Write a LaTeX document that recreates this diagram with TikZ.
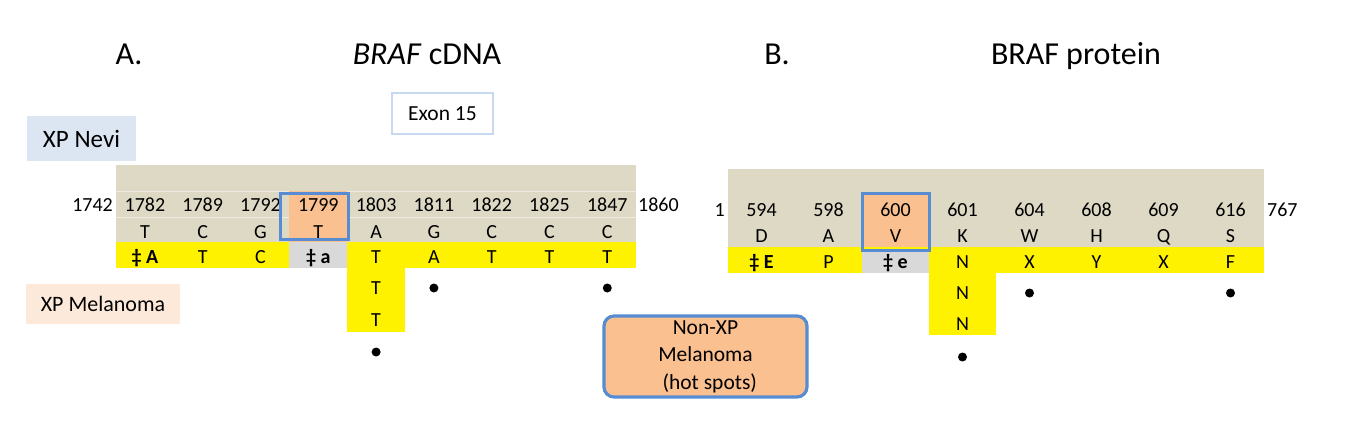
\documentclass[tikz,border=0pt]{standalone}
\usepackage{fontspec}
\setmainfont{Carlito}
\usetikzlibrary{positioning}
\definecolor{beige}{RGB}{221,217,196}
\definecolor{hot}{RGB}{250,192,144}
\definecolor{frame}{RGB}{88,140,210}
\definecolor{nevi}{RGB}{220,230,242}
\definecolor{mel}{RGB}{253,233,217}
\definecolor{wild}{RGB}{217,217,217}
\definecolor{exon}{RGB}{198,217,241}
\begin{document}
\begin{tikzpicture}[x=1pt,y=-1pt,
  num/.style={font=\fontsize{20}{24}\selectfont,inner sep=0pt,text height=13pt,text depth=0pt},
  ttl/.style={font=\fontsize{32}{38}\selectfont,anchor=base,inner sep=0pt},
  dot/.style={circle,fill=black,inner sep=0pt,minimum size=9pt}]
\useasboundingbox (0,0) rectangle (1362,428);
\node[ttl] (ta) at (129,65) {A.};
\node[ttl] (tdna) at (427,65) {\textit{BRAF} cDNA};
\node[ttl] (tb) at (777,65) {B.};
\node[ttl] (tprot) at (1076,65) {BRAF protein};
\node[draw=exon,line width=1.2pt,minimum width=101pt,minimum height=41pt,inner sep=0pt,font=\fontsize{21.5}{26}\selectfont] (exon) at (442.5,113.5) {Exon 15};
\node[fill=nevi,minimum width=109pt,minimum height=45pt,inner sep=0pt,font=\fontsize{25}{30}\selectfont] (nevi) at (81.5,138.5) {XP Nevi};
\node[fill=mel,minimum width=154pt,minimum height=40pt,inner sep=0pt,font=\fontsize{22}{26}\selectfont] (mel) at (103,304) {XP Melanoma};
\node[draw=frame,fill=hot,line width=3.2pt,rounded corners=10pt,minimum width=203pt,minimum height=81pt,inner sep=0pt,align=center,font=\fontsize{21.5}{27.5}\selectfont] (hotspots) at (705.5,356.5) {Non-XP\\Melanoma\\\hspace*{0.4em}(hot spots)};
\fill[beige] (116,165) rectangle (636,242);
\draw[white,opacity=.5] (116,191) -- (636,191) (116,217) -- (636,217);
\fill[hot] (289,191) rectangle (347,242);
\fill[yellow] (116,242) rectangle (636,268);
\fill[yellow] (347,268) rectangle (405,332);
\fill[wild] (289,242) rectangle (347,268);
\foreach \n/\r/\m [count=\i] in {1782/T/{\bfseries\ddag\ A},1789/C/T,1792/G/C,1799/T/{\bfseries\ddag\ a},1803/A/T,1811/G/A,1822/C/T,1825/C/T,1847/C/T}{
  \node[num] (p\n) at (116+57.8*\i-28.9,205) {\n};
  \node[num] (r\n) at (116+57.8*\i-28.9,232) {\r};
  \node[num] (a\n) at (116+57.8*\i-28.9,257) {\m};
}
\draw[frame,line width=3pt] (280,193) rectangle (348,239);
\node[num,anchor=east] (cstart) at (113,205) {1742};
\node[num,anchor=west] (cend) at (638,205) {1860};
\node[num] (a1803b) at (376.1,288) {T};
\node[num] (a1803c) at (376.1,320) {T};
\node[dot] (d1803) at (376.1,352) {};
\node[dot] (d1811) at (433.9,288) {};
\node[dot] (d1847) at (607.3,288) {};
\fill[beige] (728,169) rectangle (1264,247);
\fill[hot] (862,193) rectangle (929,250);
\fill[yellow] (728,247) rectangle (1264,273);
\fill[yellow] (929,273) rectangle (996,335);
\fill[wild] (862,250) rectangle (929,273);
\foreach \n/\r/\m [count=\i] in {594/D/{\bfseries\ddag\ E},598/A/P,600/V/{\bfseries\ddag\ e},601/K/N,604/W/X,608/H/Y,609/Q/X,616/S/F}{
  \node[num] (p\n) at (728+67*\i-33.5,210) {\n};
  \node[num] (r\n) at (728+67*\i-33.5,236) {\r};
  \node[num] (a\n) at (728+67*\i-33.5,262) {\m};
}
\draw[frame,line width=3pt] (862,193) rectangle (929,250);
\node[num,anchor=east] (pstart) at (725,210) {1};
\node[num,anchor=west] (pend) at (1267,210) {767};
\node[num] (a601b) at (962.5,293) {N};
\node[num] (a601c) at (962.5,324) {N};
\node[dot] (d601) at (962.5,357) {};
\node[dot] (d604) at (1029.5,293) {};
\node[dot] (d616) at (1230.5,293) {};
\end{tikzpicture}
\end{document}
